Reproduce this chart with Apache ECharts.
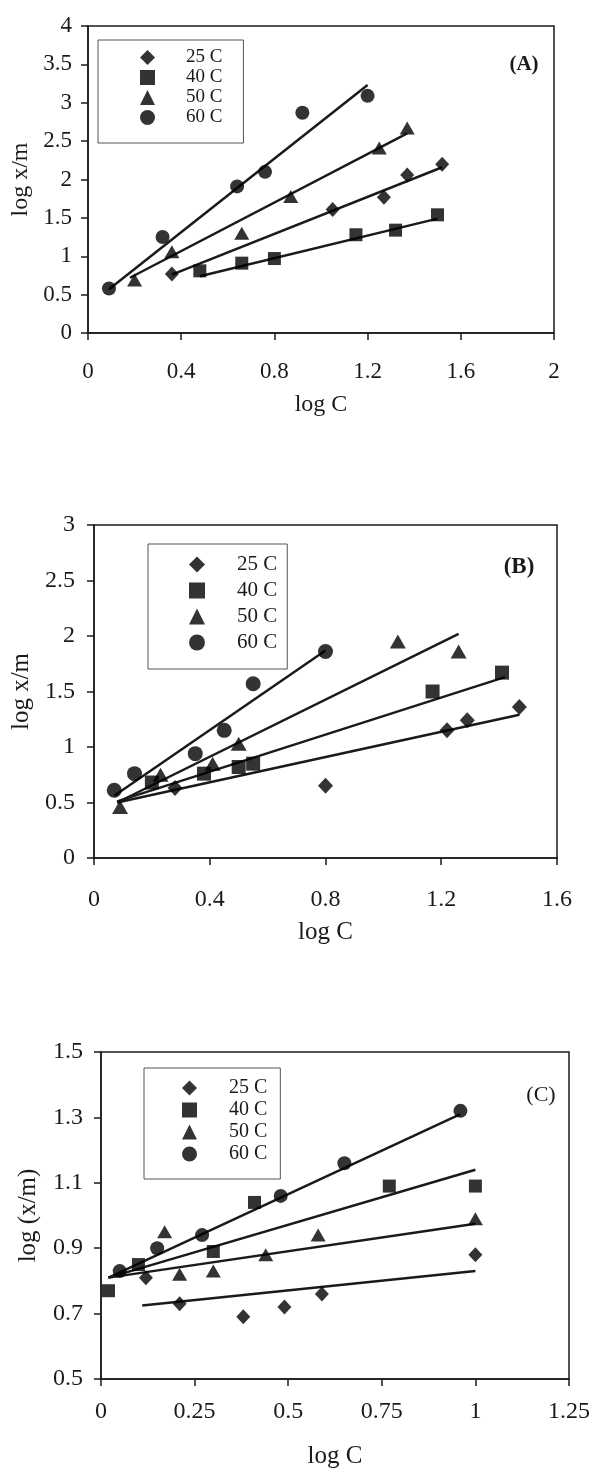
<!DOCTYPE html>
<html>
<head>
<meta charset="utf-8">
<script src="https://cdn.jsdelivr.net/npm/echarts@6/dist/echarts.min.js"></script>
<style>
html,body{margin:0;padding:0;background:#fff;}
#chart{width:595px;height:1470px;}
</style>
</head>
<body>
<div id="chart"></div>
<script>
// ---------- DATA ----------
const seriesNames = ['25 C', '40 C', '50 C', '60 C'];
const panelLabels = ['(A)', '(B)', '(C)'];
const xAxisName = 'log C';
const yAxisNames = ['log x/m', 'log x/m', 'log (x/m)'];

// Panel A  [log C, log x/m]
const a25 = [[0.36,0.77],[1.05,1.61],[1.27,1.77],[1.37,2.06],[1.52,2.20]];
const a40 = [[0.48,0.81],[0.66,0.91],[0.80,0.97],[1.15,1.28],[1.32,1.34],[1.50,1.54]];
const a50 = [[0.20,0.69],[0.36,1.06],[0.66,1.30],[0.87,1.78],[1.25,2.41],[1.37,2.67]];
const a60 = [[0.09,0.58],[0.32,1.25],[0.64,1.91],[0.76,2.10],[0.92,2.87],[1.20,3.09]];
const a25Fit = [[0.36,0.76],[1.52,2.16]];
const a40Fit = [[0.48,0.74],[1.50,1.49]];
const a50Fit = [[0.18,0.72],[1.37,2.60]];
const a60Fit = [[0.09,0.57],[1.20,3.23]];

// Panel B
const b25 = [[0.28,0.63],[0.80,0.65],[1.22,1.15],[1.29,1.24],[1.47,1.36]];
const b40 = [[0.20,0.68],[0.38,0.76],[0.50,0.82],[0.55,0.85],[1.17,1.50],[1.41,1.67]];
const b50 = [[0.09,0.46],[0.23,0.75],[0.41,0.85],[0.50,1.03],[1.05,1.95],[1.26,1.86]];
const b60 = [[0.07,0.61],[0.14,0.76],[0.35,0.94],[0.45,1.15],[0.55,1.57],[0.80,1.86]];
const b25Fit = [[0.08,0.50],[1.47,1.29]];
const b40Fit = [[0.08,0.51],[1.42,1.63]];
const b50Fit = [[0.08,0.50],[1.26,2.02]];
const b60Fit = [[0.07,0.56],[0.80,1.87]];

// Panel C
const c25 = [[0.12,0.81],[0.21,0.73],[0.38,0.69],[0.49,0.72],[0.59,0.76],[1.00,0.88]];
const c40 = [[0.02,0.77],[0.10,0.85],[0.30,0.89],[0.41,1.04],[0.77,1.09],[1.00,1.09]];
const c50 = [[0.17,0.95],[0.21,0.82],[0.30,0.83],[0.44,0.88],[0.58,0.94],[1.00,0.99]];
const c60 = [[0.05,0.83],[0.15,0.90],[0.27,0.94],[0.48,1.06],[0.65,1.16],[0.96,1.32]];
const c25Fit = [[0.11,0.725],[1.00,0.83]];
const c40Fit = [[0.02,0.81],[1.00,1.14]];
const c50Fit = [[0.02,0.81],[1.00,0.975]];
const c60Fit = [[0.02,0.81],[0.96,1.31]];

// Axis ticks
const xTicksA = [0, 0.4, 0.8, 1.2, 1.6, 2];
const yTicksA = [0, 0.5, 1, 1.5, 2, 2.5, 3, 3.5, 4];
const xTicksB = [0, 0.4, 0.8, 1.2, 1.6];
const yTicksB = [0, 0.5, 1, 1.5, 2, 2.5, 3];
const xTicksC = [0, 0.25, 0.5, 0.75, 1, 1.25];
const yTicksC = [0.5, 0.7, 0.9, 1.1, 1.3, 1.5];

// ---------- BUILD ----------
const FONT = "'Liberation Serif', 'Times New Roman', serif";
const INK = '#1a1a1a';
const symbols = ['diamond', 'rect', 'triangle', 'circle'];

const panels = [
  { pts: [a25, a40, a50, a60], fits: [a25Fit, a40Fit, a50Fit, a60Fit], xt: xTicksA, yt: yTicksA,
    grid: { left: 88, top: 26, width: 466, height: 307 },
    tickFont: 23, nameFont: 24, xMargin: 27, yMargin: 16, xGap: 60, yGap: 51, sym: 14,
    legend: { left: 98, top: 40, font: 19, ih: 15, gap: 1, tpad: 26, pad: [8, 21, 16, 42] },
    label: { x: 524, y: 65, size: 21, weight: 'bold' } },
  { pts: [b25, b40, b50, b60], fits: [b25Fit, b40Fit, b50Fit, b60Fit], xt: xTicksB, yt: yTicksB,
    grid: { left: 94, top: 525, width: 463, height: 333 },
    tickFont: 24, nameFont: 25, xMargin: 30, yMargin: 19, xGap: 62, yGap: 57, sym: 15,
    legend: { left: 148, top: 544, font: 21, ih: 16, gap: 5, tpad: 27, pad: [10, 10, 16, 41] },
    label: { x: 519, y: 567, size: 23, weight: 'bold' } },
  { pts: [c25, c40, c50, c60], fits: [c25Fit, c40Fit, c50Fit, c60Fit], xt: xTicksC, yt: yTicksC,
    grid: { left: 101, top: 1052, width: 468, height: 331 },
    tickFont: 24, nameFont: 25, xMargin: 21, yMargin: 18, xGap: 65, yGap: 60, sym: 14,
    legend: { left: 144, top: 1068, font: 20, ih: 15, gap: 2, tpad: 27, pad: [10, 13, 15, 38] },
    label: { x: 541, y: 1095, size: 22, weight: 'normal' } }
];

const option = {
  backgroundColor: '#fff',
  animation: false,
  grid: [], xAxis: [], yAxis: [], series: [], legend: [], graphic: []
};

panels.forEach((p, i) => {
  option.grid.push(Object.assign({ show: true, borderColor: INK, borderWidth: 1.5, backgroundColor: 'transparent' }, p.grid));
  option.xAxis.push({
    type: 'value', gridIndex: i,
    min: p.xt[0], max: p.xt[p.xt.length - 1],
    name: xAxisName, nameLocation: 'middle', nameGap: p.xGap,
    nameTextStyle: { fontFamily: FONT, fontSize: p.nameFont, color: INK },
    axisLine: { show: true, onZero: false, lineStyle: { color: INK, width: 1.5 } },
    axisTick: { show: true, length: 7, customValues: p.xt, lineStyle: { color: INK, width: 1.5 } },
    axisLabel: { customValues: p.xt, margin: p.xMargin, fontFamily: FONT, fontSize: p.tickFont, color: INK },
    splitLine: { show: false }
  });
  option.yAxis.push({
    type: 'value', gridIndex: i,
    min: p.yt[0], max: p.yt[p.yt.length - 1],
    name: yAxisNames[i], nameLocation: 'middle', nameGap: p.yGap, nameRotate: 90,
    nameTextStyle: { fontFamily: FONT, fontSize: p.nameFont, color: INK },
    axisLine: { show: true, onZero: false, lineStyle: { color: INK, width: 1.5 } },
    axisTick: { show: true, length: 7, customValues: p.yt, lineStyle: { color: INK, width: 1.5 } },
    axisLabel: { customValues: p.yt, margin: p.yMargin, fontFamily: FONT, fontSize: p.tickFont, color: INK },
    splitLine: { show: false }
  });
  p.fits.forEach((f, k) => {
    option.series.push({
      type: 'line', name: seriesNames[k] + ' fit', xAxisIndex: i, yAxisIndex: i,
      data: f, showSymbol: false, symbol: 'none', silent: true,
      lineStyle: { color: INK, width: 2.5 }, z: 2
    });
  });
  p.pts.forEach((d, k) => {
    let size = p.sym;
    if (symbols[k] === 'rect') size = p.sym - 1;
    if (symbols[k] === 'diamond') size = [p.sym, p.sym + 1];
    if (symbols[k] === 'triangle') size = [p.sym + 1, p.sym - 1];
    option.series.push({
      type: 'scatter', name: seriesNames[k], xAxisIndex: i, yAxisIndex: i,
      data: d, symbol: symbols[k], symbolSize: size,
      itemStyle: { color: '#000' }, z: 3
    });
  });
  const L = p.legend;
  option.legend.push({
    data: seriesNames.map((n, k) => ({ name: n, icon: symbols[k] })),
    orient: 'vertical', left: L.left, top: L.top,
    borderColor: '#555', borderWidth: 1, padding: L.pad,
    itemWidth: L.ih, itemHeight: L.ih, itemGap: L.gap, selectedMode: false,
    itemStyle: { color: '#000' },
    textStyle: { fontFamily: FONT, fontSize: L.font, color: INK, padding: [0, 0, 0, L.tpad] }
  });
  option.graphic.push({
    type: 'text', x: p.label.x, y: p.label.y,
    style: { text: panelLabels[i], font: p.label.weight + ' ' + p.label.size + 'px ' + FONT, fill: INK,
             textAlign: 'center', textVerticalAlign: 'middle' }
  });
});

const chart = echarts.init(document.getElementById('chart'), null, { renderer: 'canvas' });
chart.setOption(option);
</script>
</body>
</html>
